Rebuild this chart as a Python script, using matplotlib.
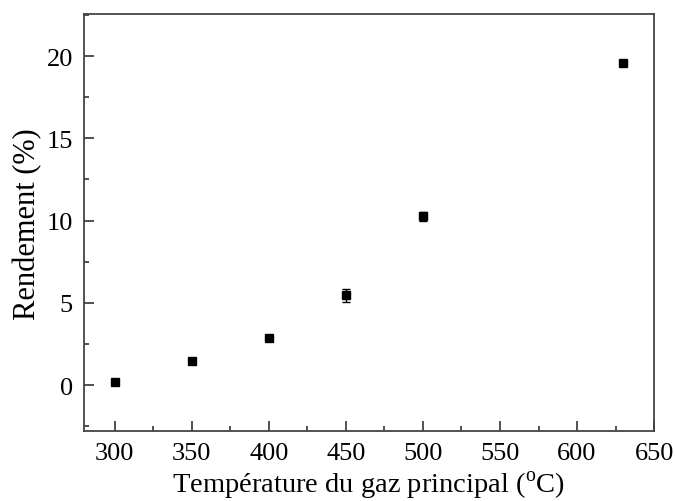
import matplotlib.pyplot as plt
from matplotlib.ticker import MultipleLocator

plt.rcParams['font.family'] = ['Liberation Serif', 'DejaVu Serif']
plt.rcParams['mathtext.fontset'] = 'custom'
plt.rcParams['mathtext.rm'] = 'Liberation Serif'

# data
temperature = [300, 350, 400, 450, 500, 630]
rendement = [0.2, 1.45, 2.85, 5.45, 10.25, 19.6]
erreur = [0.0, 0.0, 0.0, 0.4, 0.3, 0.0]

fig = plt.figure(figsize=(6.75, 5.02), dpi=100)
ax = fig.add_axes([0.1244, 0.139, 0.8446, 0.831])

ax.errorbar(temperature, rendement, yerr=erreur, fmt='s', color='black',
            markersize=6, capsize=3, elinewidth=1, capthick=1)

ax.set_xlim(280, 650)
ax.set_ylim(-2.8, 22.55)
ax.xaxis.set_major_locator(MultipleLocator(50))
ax.xaxis.set_minor_locator(MultipleLocator(25))
ax.yaxis.set_major_locator(MultipleLocator(5))
ax.yaxis.set_minor_locator(MultipleLocator(2.5))
ax.tick_params(which='both', direction='in', labelsize=19, color='#333333', width=1.2)
ax.tick_params(which='major', length=7, pad=8)
ax.tick_params(which='minor', length=3.5)
for s in ax.spines.values():
    s.set_linewidth(1.3)
    s.set_color('#444444')

ax.set_xlabel(r'Température du gaz principal ($^{\mathrm{o}}$C)', fontsize=20.5, labelpad=3)
ax.set_ylabel('Rendement (%)', fontsize=22, labelpad=3)

fig.savefig('out.png', dpi=100)
